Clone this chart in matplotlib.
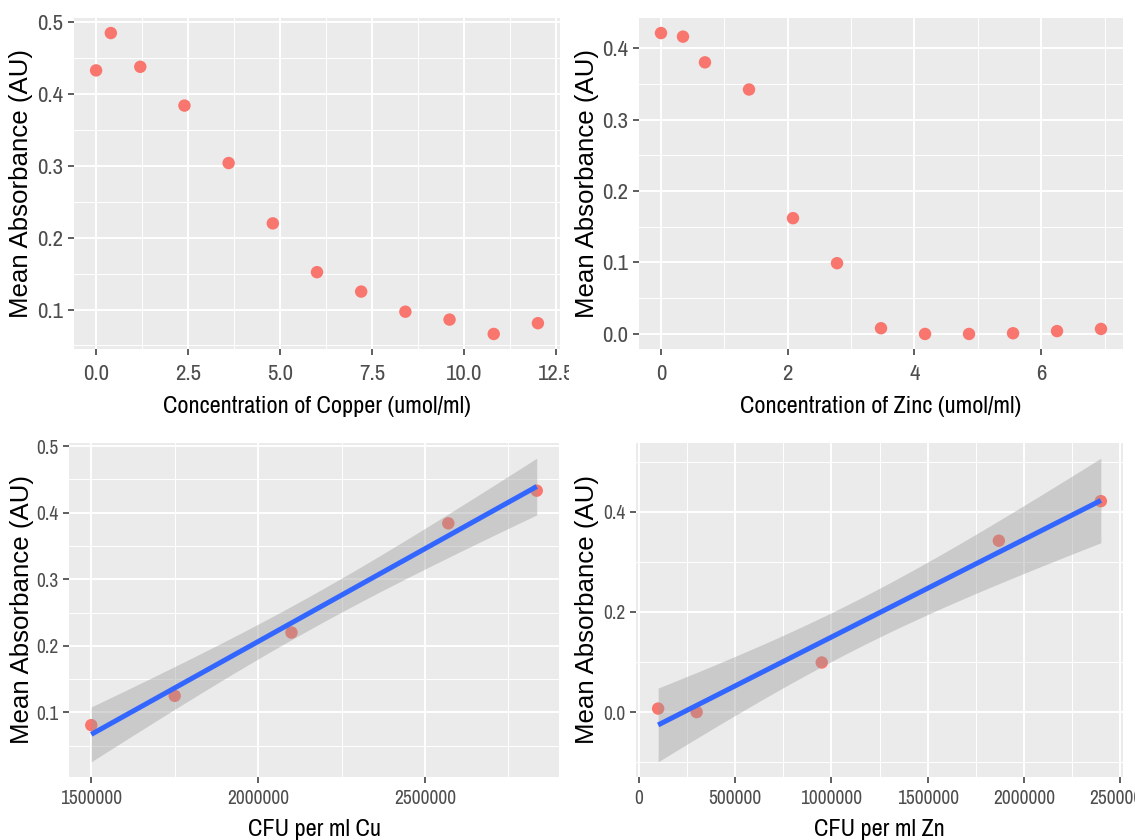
import matplotlib
matplotlib.use("Agg")
import matplotlib.pyplot as plt
import numpy as np
from matplotlib import font_manager
from matplotlib.transforms import Bbox

# data
cu_conc = [0.0, 0.4, 1.2, 2.4, 3.6, 4.8, 6.0, 7.2, 8.4, 9.6, 10.8, 12.0]
cu_abs = [0.433, 0.485, 0.438, 0.384, 0.304, 0.220, 0.152, 0.125, 0.097, 0.086, 0.066, 0.081]

zn_conc = [0.0, 0.347, 0.694, 1.389, 2.083, 2.778, 3.472, 4.167, 4.861, 5.556, 6.25, 6.944]
zn_abs = [0.421, 0.416, 0.380, 0.342, 0.162, 0.099, 0.008, 0.0, 0.0, 0.001, 0.004, 0.007]

cfu_cu = [1500000, 1750000, 2100000, 2570000, 2835000]
cfu_cu_abs = [0.081, 0.125, 0.220, 0.384, 0.433]

cfu_zn = [100000, 300000, 950000, 1870000, 2400000]
cfu_zn_abs = [0.007, 0.0, 0.099, 0.342, 0.421]

names = set(f.name for f in font_manager.fontManager.ttflist)
narrow_candidates = ['Liberation Sans Narrow', 'Arial Narrow', 'Archivo Narrow',
                     'Roboto Condensed', 'PT Sans Narrow', 'Pragati Narrow',
                     'Fira Sans Condensed', 'IBM Plex Sans Condensed',
                     'Encode Sans Condensed', 'Open Sans Condensed']
NARROW = None
for c in narrow_candidates:
    if c in names:
        NARROW = c
        break
# without a narrow face, shrink the horizontal texts so their widths match
SHRINK = 1.0
if NARROW is None:
    NARROW = 'Liberation Sans'
    SHRINK = 0.83
REG = 'Liberation Sans'

BG = '#EBEBEB'
PT = '#F8766D'


def gg_axes(fig, rect, tick_size):
    ax = fig.add_axes(rect)
    ax.set_facecolor(BG)
    for s in ax.spines.values():
        s.set_visible(False)
    ax.grid(True, which='major', color='white', lw=1.4)
    ax.grid(True, which='minor', color='white', lw=0.7)
    ax.set_axisbelow(True)
    ax.tick_params(which='major', length=4, width=1.1, color='#333333',
                   labelcolor='#4D4D4D', labelsize=tick_size * SHRINK)
    ax.tick_params(which='minor', length=0)
    return ax


def expand(lo, hi, f=0.05):
    d = (hi - lo) * f
    return lo - d, hi + d


def lm_band(x, y, t=3.182446):
    x = np.asarray(x, float)
    y = np.asarray(y, float)
    b, a = np.polyfit(x, y, 1)
    n = len(x)
    resid = y - (a + b * x)
    s = np.sqrt(np.sum(resid ** 2) / (n - 2))
    xs = np.linspace(x.min(), x.max(), 80)
    fit = a + b * xs
    se = s * np.sqrt(1 / n + (xs - x.mean()) ** 2 / np.sum((x - x.mean()) ** 2))
    return xs, fit, fit - t * se, fit + t * se


def labels(ax, xl, yl, xlab_y, ylab_x, xsize):
    ax.set_xlabel(xl, family=NARROW, fontsize=xsize * SHRINK, color='black')
    ax.set_ylabel(yl, family=REG, fontsize=18.6, color='black')
    ax.xaxis.label.set_va('center')
    ax.yaxis.label.set_va('center')
    ax.xaxis.set_label_coords(0.5, xlab_y)
    ax.yaxis.set_label_coords(ylab_x, 0.5)


W, H = 1135, 840
fig = plt.figure(figsize=(W / 100, H / 100), dpi=100)


def rect(l, r, t, b):
    return [l / W, 1 - b / H, (r - l) / W, (b - t) / H]


# top left: copper
ax1 = gg_axes(fig, rect(74, 560, 18, 349), 16.5)
ax1.tick_params(axis='x', which='major', pad=6.5)
ax1.scatter(cu_conc, cu_abs, s=80, color=PT, edgecolors='none', zorder=3)
ax1.set_xlim(*expand(min(cu_conc), max(cu_conc)))
ax1.set_ylim(*expand(min(cu_abs), max(cu_abs)))
ax1.set_xticks([0, 2.5, 5, 7.5, 10, 12.5])
ax1.set_xticklabels(['0.0', '2.5', '5.0', '7.5', '10.0', '12.5'])
ax1.set_xticks([1.25, 3.75, 6.25, 8.75, 11.25], minor=True)
ax1.set_yticks([0.1, 0.2, 0.3, 0.4, 0.5])
ax1.set_yticklabels(['0.1', '0.2', '0.3', '0.4', '0.5'])
ax1.set_yticks([0.05, 0.15, 0.25, 0.35, 0.45], minor=True)
labels(ax1, 'Concentration of Copper (umol/ml)', 'Mean Absorbance (AU)',
       (349 - 406) / 331, (21 - 74) / 486, 17.5)

# top right: zinc
ax2 = gg_axes(fig, rect(639, 1123, 18, 349), 16.5)
ax2.tick_params(axis='x', which='major', pad=6.5)
ax2.scatter(zn_conc, zn_abs, s=80, color=PT, edgecolors='none', zorder=3)
ax2.set_xlim(*expand(min(zn_conc), max(zn_conc)))
ax2.set_ylim(*expand(min(zn_abs), max(zn_abs)))
ax2.set_xticks([0, 2, 4, 6])
ax2.set_xticklabels(['0', '2', '4', '6'])
ax2.set_xticks([1, 3, 5, 7], minor=True)
ax2.set_yticks([0.0, 0.1, 0.2, 0.3, 0.4])
ax2.set_yticklabels(['0.0', '0.1', '0.2', '0.3', '0.4'])
ax2.set_yticks([0.05, 0.15, 0.25, 0.35], minor=True)
labels(ax2, 'Concentration of Zinc (umol/ml)', 'Mean Absorbance (AU)',
       (349 - 406) / 331, (587 - 639) / 484, 17.5)

# bottom left: CFU Cu
ax3 = gg_axes(fig, rect(69, 559, 443, 777), 14)
ax3.tick_params(axis='x', which='major', pad=5)
xs, fit, lo, hi = lm_band(cfu_cu, cfu_cu_abs)
ax3.scatter(cfu_cu, cfu_cu_abs, s=80, color=PT, edgecolors='none', zorder=3)
ax3.fill_between(xs, lo, hi, color='#999999', alpha=0.4, lw=0, zorder=4)
ax3.plot(xs, fit, color='#3366FF', lw=3.6, zorder=5, solid_capstyle='butt')
ax3.set_xlim(*expand(min(cfu_cu), max(cfu_cu)))
ax3.set_ylim(*expand(lo.min(), hi.max()))
ax3.set_xticks([1500000, 2000000, 2500000])
ax3.set_xticklabels(['1500000', '2000000', '2500000'])
ax3.set_xticks([1750000, 2250000, 2750000], minor=True)
ax3.set_yticks([0.1, 0.2, 0.3, 0.4, 0.5])
ax3.set_yticklabels(['0.1', '0.2', '0.3', '0.4', '0.5'])
ax3.set_yticks([0.05, 0.15, 0.25, 0.35, 0.45], minor=True)
labels(ax3, 'CFU per ml Cu', 'Mean Absorbance (AU)',
       (777 - 829) / 334, (22 - 69) / 490, 17.5)

# bottom right: CFU Zn
ax4 = gg_axes(fig, rect(636, 1123, 443, 777), 14)
ax4.tick_params(axis='x', which='major', pad=5)
xs, fit, lo, hi = lm_band(cfu_zn, cfu_zn_abs)
ax4.scatter(cfu_zn, cfu_zn_abs, s=80, color=PT, edgecolors='none', zorder=3)
ax4.fill_between(xs, lo, hi, color='#999999', alpha=0.4, lw=0, zorder=4)
ax4.plot(xs, fit, color='#3366FF', lw=3.6, zorder=5, solid_capstyle='butt')
ax4.set_xlim(*expand(min(cfu_zn), max(cfu_zn)))
ax4.set_ylim(*expand(lo.min(), hi.max()))
ax4.set_xticks([0, 500000, 1000000, 1500000, 2000000, 2500000])
ax4.set_xticklabels(['0', '500000', '1000000', '1500000', '2000000', '2500000'])
ax4.set_xticks([250000, 750000, 1250000, 1750000, 2250000], minor=True)
ax4.set_yticks([0.0, 0.2, 0.4])
ax4.set_yticklabels(['0.0', '0.2', '0.4'])
ax4.set_yticks([-0.1, 0.1, 0.3, 0.5], minor=True)
labels(ax4, 'CFU per ml Zn', 'Mean Absorbance (AU)',
       (777 - 829) / 334, (587 - 636) / 487, 17.5)

for ax in (ax1, ax2, ax3, ax4):
    for lab in ax.get_xticklabels() + ax.get_yticklabels():
        lab.set_family(NARROW)

# each panel was a separate image: the last tick label is cut at its edge
fig.canvas.draw()
for ax, edge in ((ax1, 569), (ax3, 569)):
    for lab in ax.get_xticklabels():
        lab.set_clip_box(Bbox.from_extents(0, 0, edge, H))
        lab.set_clip_on(True)

fig.savefig('out.png', dpi=100)
